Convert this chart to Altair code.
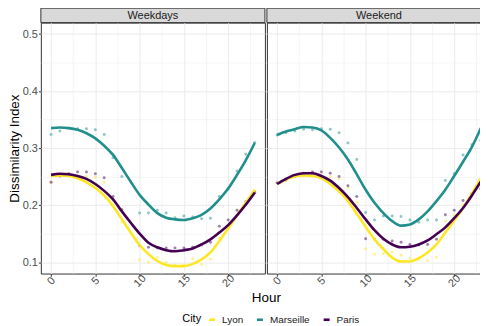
import altair as alt
import pandas as pd

hours = list(range(24))
periods = ["Weekdays", "Weekend"]
cities = ["Lyon", "Marseille", "Paris"]
city_colors = ["#FDE725", "#21908C", "#440154"]

# observed points (None = not shown)
pts = {
    ("Weekdays", "Lyon"): [0.240, 0.250, 0.255, 0.251, 0.250, 0.249, 0.240, 0.200, 0.171, None, 0.104, 0.100,
                           0.108, 0.100, 0.095, 0.095, 0.106, 0.096, 0.105, 0.142, 0.160, 0.182, 0.202, 0.225],
    ("Weekdays", "Marseille"): [0.324, 0.330, 0.335, 0.334, 0.334, 0.332, 0.324, 0.283, 0.250, None, 0.186, 0.186,
                                0.191, 0.186, 0.178, 0.181, 0.179, 0.176, 0.177, 0.215, 0.228, 0.260, 0.289, 0.310],
    ("Weekdays", "Paris"): [0.240, 0.251, 0.255, 0.258, 0.258, 0.255, 0.248, 0.215, 0.192, None, 0.129, 0.126,
                            0.125, 0.125, 0.125, 0.125, 0.126, 0.130, 0.135, 0.163, 0.174, 0.191, 0.206, 0.222],
    ("Weekend", "Lyon"): [0.239, 0.245, 0.250, 0.251, 0.252, 0.251, 0.250, 0.246, 0.230, 0.205, 0.123, 0.114,
                          0.115, 0.118, 0.112, 0.107, 0.105, 0.103, 0.108, 0.172, 0.183, 0.200, 0.221, 0.241],
    ("Weekend", "Marseille"): [0.323, 0.327, 0.330, 0.333, 0.332, 0.334, 0.333, 0.327, 0.309, 0.280, 0.187, 0.174,
                               0.181, 0.181, 0.180, 0.174, 0.170, 0.174, 0.174, 0.243, 0.255, 0.288, 0.306, 0.313],
    ("Weekend", "Paris"): [0.239, 0.244, 0.250, 0.256, 0.258, 0.258, 0.256, 0.250, 0.234, 0.215, 0.141, 0.140,
                           0.140, 0.137, 0.135, 0.131, 0.130, 0.131, 0.140, 0.183, 0.191, 0.208, 0.220, 0.229],
}

# smoothed curves
smooth = {
    ("Weekdays", "Lyon"): [0.251, 0.252, 0.251, 0.247, 0.240, 0.230, 0.217, 0.198, 0.175, 0.152, 0.130, 0.114,
                           0.102, 0.095, 0.093, 0.093, 0.097, 0.105, 0.117, 0.137, 0.159, 0.182, 0.204, 0.227],
    ("Weekdays", "Marseille"): [0.335, 0.336, 0.335, 0.332, 0.326, 0.317, 0.304, 0.288, 0.265, 0.241, 0.218, 0.201,
                                0.186, 0.178, 0.175, 0.174, 0.177, 0.183, 0.194, 0.210, 0.229, 0.253, 0.279, 0.309],
    ("Weekdays", "Paris"): [0.253, 0.255, 0.254, 0.251, 0.246, 0.237, 0.225, 0.210, 0.189, 0.169, 0.150, 0.134,
                            0.126, 0.121, 0.119, 0.121, 0.124, 0.131, 0.140, 0.152, 0.165, 0.182, 0.201, 0.222],
    ("Weekend", "Lyon"): [0.237, 0.245, 0.250, 0.252, 0.251, 0.247, 0.237, 0.224, 0.207, 0.185, 0.162, 0.140,
                          0.123, 0.108, 0.101, 0.101, 0.107, 0.117, 0.131, 0.152, 0.173, 0.195, 0.220, 0.247],
    ("Weekend", "Marseille"): [0.323, 0.329, 0.333, 0.337, 0.336, 0.331, 0.318, 0.301, 0.280, 0.254, 0.227, 0.204,
                               0.186, 0.172, 0.164, 0.166, 0.175, 0.189, 0.207, 0.227, 0.251, 0.276, 0.302, 0.335],
    ("Weekend", "Paris"): [0.237, 0.246, 0.253, 0.256, 0.256, 0.251, 0.243, 0.230, 0.214, 0.195, 0.175, 0.156,
                           0.141, 0.131, 0.126, 0.127, 0.131, 0.138, 0.149, 0.161, 0.177, 0.195, 0.217, 0.241],
}

x_ticks = [0, 5, 10, 15, 20]
x_minor = [2.5, 7.5, 12.5, 17.5, 22.5]
y_ticks = [0.1, 0.2, 0.3, 0.4, 0.5]
y_minor = [0.15, 0.25, 0.35, 0.45]

rows = []
for p in periods:
    for c in cities:
        for h, v in zip(hours, pts[(p, c)]):
            if v is not None:
                rows.append({"Period": p, "City": c, "Hour": h, "Value": v, "kind": "point"})
        for h, v in zip(hours, smooth[(p, c)]):
            rows.append({"Period": p, "City": c, "Hour": h, "Value": v, "kind": "line"})
    rows.append({"Period": p, "City": "", "Hour": 0, "Value": 0.3, "kind": "strip"})
df = pd.DataFrame(rows)

W = 225
H = 252
SP = 2
FONT = "Liberation Sans"

xscale = alt.Scale(domain=[-1.15, 24.15], nice=False, zero=False)
yscale = alt.Scale(domain=[0.08, 0.52], nice=False, zero=False)

legend = alt.Legend(
    orient="none", legendX=142, legendY=293, direction="horizontal", titleOrient="left",
    symbolType="stroke", symbolStrokeWidth=2.6, symbolSize=36, labelFontSize=10,
    titleFontSize=11, titleFontWeight="normal", titleColor="#000000", labelColor="#1A1A1A",
    columnPadding=7, labelOffset=5, titlePadding=6, symbolOpacity=1)
color = alt.Color("City:N", scale=alt.Scale(domain=cities, range=city_colors), legend=legend)

minor_x = alt.Axis(values=x_minor, orient="top", labels=False, ticks=False, domain=False, grid=True,
                   gridColor="#EBEBEB", gridWidth=0.5, title=None, minExtent=0, maxExtent=0,
                   labelPadding=0, titlePadding=0)
minor_y = alt.Axis(values=y_minor, orient="right", labels=False, ticks=False, domain=False, grid=True,
                   gridColor="#EBEBEB", gridWidth=0.5, title=None, minExtent=0, maxExtent=0,
                   labelPadding=0, titlePadding=0)


def make_panel(period, first):
    base = alt.Chart(df).transform_filter(alt.datum.Period == period)
    if first:
        xaxis = alt.Axis(values=x_ticks, title="Hour", titleX=W + SP / 2, titleAlign="center",
                         grid=True, gridColor="#EBEBEB", gridWidth=1,
                         labelAngle=-45, labelAlign="center", labelBaseline="middle", labelPadding=4.5,
                         tickSize=2.7, tickColor="#333333", domain=False, titlePadding=2)
        yaxis = alt.Axis(values=y_ticks, format=".1f", title="Dissimilarity Index", grid=True,
                         gridColor="#EBEBEB", gridWidth=1, tickSize=2.5, tickColor="#333333",
                         domain=False, labelPadding=1, titlePadding=1, minExtent=18.5, maxExtent=18.5)
    else:
        xaxis = alt.Axis(values=x_ticks, title=None, grid=True, gridColor="#EBEBEB", gridWidth=1,
                         labelAngle=-45, labelAlign="center", labelBaseline="middle", labelPadding=4.5,
                         tickSize=2.7, tickColor="#333333", domain=False)
        yaxis = alt.Axis(values=y_ticks, title=None, labels=False, ticks=False, domain=False, grid=True,
                         gridColor="#EBEBEB", gridWidth=1, minExtent=0, maxExtent=0,
                         labelPadding=0, titlePadding=0)

    points = base.transform_filter(alt.datum.kind == "point").mark_circle(size=9, opacity=0.5).encode(
        x=alt.X("Hour:Q", scale=xscale, axis=xaxis),
        y=alt.Y("Value:Q", scale=yscale, axis=yaxis),
        color=color,
    )
    lines = base.transform_filter(alt.datum.kind == "line").mark_line(
        strokeWidth=2.6, interpolate="monotone"
    ).encode(
        x=alt.X("Hour:Q", scale=xscale, axis=minor_x),
        y=alt.Y("Value:Q", scale=yscale, axis=minor_y),
        color=color,
        detail="City:N",
    )
    strip_rect = base.transform_filter(alt.datum.kind == "strip").mark_rect(
        fill="#D9D9D9", stroke="#333333", strokeWidth=1
    ).encode(x=alt.value(0), x2=alt.value(W), y=alt.value(-14.5), y2=alt.value(0))
    strip_text = base.transform_filter(alt.datum.kind == "strip").mark_text(
        fontSize=11, color="#1A1A1A", baseline="middle", font=FONT
    ).encode(x=alt.value(W / 2), y=alt.value(-7), text="Period:N")

    return alt.layer(points, lines, strip_rect, strip_text).resolve_axis(
        x="independent", y="independent"
    ).properties(width=W, height=H)


chart = alt.hconcat(
    make_panel("Weekdays", True), make_panel("Weekend", False), spacing=SP, bounds="flush"
).properties(
    padding={"left": -1, "top": -2, "right": -12, "bottom": 0}
).configure_view(
    stroke="#333333", strokeWidth=1
).configure_axis(
    labelFont=FONT, titleFont=FONT, labelFontSize=11, labelColor="#4D4D4D",
    titleFontSize=13.5, titleFontWeight="normal", titleColor="#000000"
).configure_legend(labelFont=FONT, titleFont=FONT)

chart.save("out.html", embed_options={"renderer": "svg", "actions": False})
